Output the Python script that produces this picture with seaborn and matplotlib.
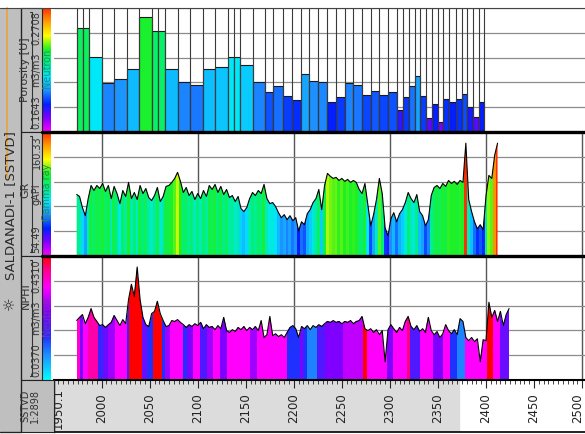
import matplotlib
matplotlib.use("Agg")
import matplotlib.pyplot as plt
import numpy as np
import seaborn as sns
from matplotlib.colors import LinearSegmentedColormap, Normalize
from matplotlib.patches import Rectangle
from matplotlib.ticker import MultipleLocator

well_name = "SALDANADI-1 [SSTVD]"
depth_ref = "SSTVD"
depth_scale = "1:2898"
depth_min, depth_max = 1950.1, 2503.0
depth_labels = [2000, 2050, 2100, 2150, 2200, 2250, 2300, 2350, 2400, 2450, 2500]
depth_grid = [2000, 2100, 2200, 2300, 2400, 2500]
shade_end = 2371.6

# porosity blocks (edges in m, value per block)
por_edges = [1974.0, 1980.2, 1986.8, 2000.0, 2013.1, 2026.0, 2039.1, 2052.7, 2058.9, 2065.9,
             2079.1, 2091.9, 2105.1, 2117.9, 2131.1, 2138.0, 2143.9, 2157.1, 2169.9, 2178.6,
             2188.7, 2197.7, 2207.1, 2215.7, 2224.8, 2234.1, 2243.5, 2253.2, 2261.8, 2271.2,
             2279.9, 2288.9, 2297.6, 2307.0, 2313.2, 2319.8, 2326.0, 2331.2, 2337.1, 2344.0,
             2349.6, 2355.5, 2361.7, 2368.4, 2374.6, 2379.8, 2386.1, 2392.6, 2398.1]
por_values = [0.2532, 0.2532, 0.2290, 0.2065, 0.2102, 0.2180, 0.2627, 0.2511, 0.2511, 0.2180,
              0.2070, 0.2050, 0.2188, 0.2200, 0.2290, 0.2290, 0.2215, 0.2070, 0.1984, 0.2035,
              0.1949, 0.1920, 0.2137, 0.2085, 0.2073, 0.1897, 0.1940, 0.2065, 0.2050, 0.1963,
              0.1998, 0.1963, 0.1984, 0.1834, 0.1940, 0.2041, 0.2128, 0.1949, 0.1767, 0.1886,
              0.1732, 0.1929, 0.1897, 0.1929, 0.1972, 0.1862, 0.1775, 0.1897]
por_range = (0.1643, 0.2708)

# curves sampled every 3 m from 1974 m
sample_top, sample_step = 1974.0, 3.0
gr_values = [107.0, 105.3, 95.8, 88.9, 103.5, 114.7, 110.4, 114.7, 112.1, 116.4,
             109.6, 114.7, 103.5, 113.9, 107.8, 99.2, 110.4, 105.3, 117.3, 103.5,
             108.7, 102.7, 114.7, 107.8, 112.1, 104.4, 101.8, 106.1, 113.0, 101.0,
             105.3, 113.9, 114.7, 117.3, 120.7, 125.9, 118.2, 108.7, 113.0, 106.1,
             109.6, 102.7, 107.8, 103.5, 110.4, 105.3, 114.7, 111.3, 115.6, 108.7,
             113.9, 107.0, 111.3, 104.4, 106.1, 101.0, 105.3, 95.0, 92.4, 95.8,
             103.5, 108.7, 106.1, 110.4, 107.8, 115.6, 103.5, 99.2, 100.1, 96.7,
             91.5, 87.2, 89.8, 85.5, 88.9, 84.6, 87.2, 76.0, 83.7, 81.2,
             90.6, 94.1, 100.1, 103.5, 111.3, 94.1, 114.7, 125.0, 122.5, 120.7,
             121.6, 119.0, 120.7, 118.2, 119.9, 117.3, 119.0, 117.3, 111.3, 107.8,
             116.4, 98.4, 80.3, 89.8, 102.7, 120.7, 107.8, 78.6, 71.7, 86.3,
             91.5, 83.7, 90.6, 94.1, 100.1, 108.7, 103.5, 100.1, 107.0, 92.4,
             88.9, 80.3, 85.5, 106.1, 113.0, 114.7, 112.1, 116.4, 113.9, 119.0,
             116.4, 118.2, 115.6, 119.0, 117.3, 150.8, 102.7, 92.4, 83.7, 77.7,
             81.2, 76.9, 106.1, 123.3, 120.7, 140.5, 150.8]
gr_range = (54.49, 160.33)

nphi_values = [0.226, 0.236, 0.245, 0.216, 0.236, 0.264, 0.236, 0.223, 0.210, 0.213,
               0.204, 0.213, 0.220, 0.242, 0.226, 0.210, 0.229, 0.216, 0.293, 0.341,
               0.303, 0.396, 0.293, 0.236, 0.213, 0.207, 0.248, 0.255, 0.287, 0.248,
               0.226, 0.207, 0.210, 0.226, 0.223, 0.229, 0.220, 0.213, 0.204, 0.213,
               0.207, 0.216, 0.210, 0.220, 0.200, 0.213, 0.204, 0.207, 0.197, 0.210,
               0.200, 0.236, 0.194, 0.188, 0.197, 0.191, 0.204, 0.197, 0.207, 0.194,
               0.204, 0.197, 0.207, 0.194, 0.226, 0.172, 0.181, 0.239, 0.178, 0.184,
               0.175, 0.181, 0.172, 0.188, 0.204, 0.210, 0.200, 0.172, 0.207, 0.200,
               0.210, 0.197, 0.210, 0.204, 0.213, 0.207, 0.216, 0.223, 0.220, 0.226,
               0.220, 0.223, 0.216, 0.223, 0.220, 0.226, 0.216, 0.223, 0.226, 0.239,
               0.200, 0.194, 0.200, 0.188, 0.197, 0.181, 0.194, 0.095, 0.197, 0.213,
               0.200, 0.188, 0.204, 0.194, 0.223, 0.239, 0.207, 0.197, 0.210, 0.191,
               0.200, 0.188, 0.236, 0.194, 0.181, 0.191, 0.172, 0.184, 0.213, 0.194,
               0.184, 0.197, 0.181, 0.232, 0.223, 0.172, 0.162, 0.172, 0.159, 0.168,
               0.095, 0.165, 0.162, 0.284, 0.236, 0.258, 0.223, 0.255, 0.210, 0.245,
               0.264]
nphi_range = (0.0370, 0.4310)

# fill colour of the NPHI track, per depth interval (0 = cyan ... 1 = red)
nphi_color_start = [1973.5, 1977.4, 1980.9, 1986.1, 1996.5, 2001.7, 2006.9, 2013.8, 2026.0, 2028.4,
                    2041.6, 2046.8, 2053.7, 2062.4, 2065.9, 2071.1, 2084.9, 2088.4, 2095.3, 2102.3,
                    2109.3, 2116.1, 2123.1, 2130.1, 2154.3, 2161.3, 2192.5, 2206.4, 2209.8, 2213.3,
                    2223.7, 2232.4, 2251.4, 2272.2, 2275.8, 2296.6, 2303.4, 2317.4, 2320.8, 2331.2,
                    2345.1, 2355.5, 2362.4, 2369.4, 2378.0, 2400.6, 2407.5, 2414.5]
nphi_color_code = [0.8, 0.55, 0.75, 0.85, 0.4, 0.5, 0.6, 0.75, 0.4, 1.0,
                   0.5, 0.35, 1.0, 0.35, 0.6, 0.75, 0.35, 0.55, 0.75, 0.45,
                   0.6, 0.75, 0.55, 0.75, 0.6, 0.75, 0.35, 0.55, 0.35, 0.22,
                   0.45, 0.55, 0.65, 1.0, 0.75, 0.55, 0.75, 0.9, 0.45, 0.75,
                   0.55, 0.75, 0.35, 0.22, 0.75, 1.0, 0.75, 0.5]

# ---- layout (pixels) ----
W, H = 585, 434
X0, X1 = 53.7, 585.0
TRACK_Y = [(8, 132), (132, 256), (256, 380)]


def box(x0, y0, x1, y1):
    return [x0 / W, 1 - y1 / H, (x1 - x0) / W, (y1 - y0) / H]


def setup_track(ax, lo, hi, vgrid=True):
    ax.set_xlim(depth_min, depth_max)
    ax.set_ylim(lo, hi)
    ax.set_yticks(np.linspace(lo, hi, 6))
    ax.set_xticks(depth_grid)
    ax.tick_params(length=0, labelbottom=False, labelleft=False)
    ax.grid(axis="y", color="#8c8c8c", lw=0.9)
    if vgrid:
        ax.grid(axis="x", color="#555555", lw=1.0)
    ax.set_axisbelow(True)
    for s in ax.spines.values():
        s.set_visible(False)


sns.set_style("white")
plt.rcParams["font.family"] = ["DejaVu Sans"]

rain = LinearSegmentedColormap.from_list(
    "rain", ["#ff00ff", "#8000ff", "#0020ff", "#1e90ff", "#00e8ff",
             "#00f080", "#20f020", "#ffff00", "#ffa000", "#ff3000"])
nphi_cmap = LinearSegmentedColormap.from_list(
    "nphi", [(0, "#00ffff"), (0.2, "#1e90ff"), (0.35, "#2030ff"), (0.55, "#8000ff"),
             (0.75, "#ff00ff"), (0.9, "#ff0080"), (1, "#ff0000")])

fig = plt.figure(figsize=(W / 100, H / 100), dpi=100)
ax_por = fig.add_axes(box(X0, TRACK_Y[0][0], X1, TRACK_Y[0][1]))
ax_gr = fig.add_axes(box(X0, TRACK_Y[1][0], X1, TRACK_Y[1][1]))
ax_nphi = fig.add_axes(box(X0, TRACK_Y[2][0], X1, TRACK_Y[2][1]))
ax_dep = fig.add_axes(box(X0, 380, X1, 432))

# porosity blocks
edges = np.array(por_edges)
vals = np.array(por_values)
por_norm = Normalize(0.152, 0.322)
ax_por.bar(edges[:-1], vals - por_range[0], width=np.diff(edges), bottom=por_range[0],
           align="edge", color=rain(por_norm(vals)), edgecolor="#1a1a1a", linewidth=0.8, zorder=2)
ax_por.vlines(edges, por_range[0], por_range[1], colors="#3a3a3a", linewidth=0.8, zorder=3)
setup_track(ax_por, *por_range, vgrid=False)

# gamma ray: fill coloured by value
gr = np.array(gr_values)
gr_depth = sample_top + sample_step * np.arange(len(gr))
poly = ax_gr.fill_between(gr_depth, gr_range[0], gr, facecolor="none", edgecolor="none")
im = ax_gr.imshow(gr[None, :], cmap=rain, norm=Normalize(55, 150), aspect="auto",
                  interpolation="nearest", origin="lower", zorder=2,
                  extent=(gr_depth[0] - 1.5, gr_depth[-1] + 1.5, gr_range[0], gr_range[1]))
im.set_clip_path(poly.get_paths()[0], ax_gr.transData)
sns.lineplot(x=gr_depth, y=gr, ax=ax_gr, color="black", linewidth=0.8,
             estimator=None, sort=False, zorder=4)
setup_track(ax_gr, *gr_range)

# NPHI: fill coloured by interval
nphi = np.array(nphi_values)
nphi_depth = sample_top + sample_step * np.arange(len(nphi))
poly = ax_nphi.fill_between(nphi_depth, nphi_range[0], nphi, facecolor="none", edgecolor="none")
seg_edges = list(nphi_color_start) + [nphi_depth[-1] + 1.5]
mesh = ax_nphi.pcolormesh(seg_edges, list(nphi_range), np.array(nphi_color_code)[None, :],
                          cmap=nphi_cmap, vmin=0, vmax=1, shading="flat", zorder=2)
mesh.set_clip_path(poly.get_paths()[0], ax_nphi.transData)
sns.lineplot(x=nphi_depth, y=nphi, ax=ax_nphi, color="black", linewidth=0.8,
             estimator=None, sort=False, zorder=4)
setup_track(ax_nphi, *nphi_range)

# depth scale
ax_dep.set_xlim(depth_min, depth_max)
ax_dep.set_ylim(0, 1)
ax_dep.axvspan(depth_min, shade_end, color="#dcdcdc", zorder=0)
ax_dep.xaxis.tick_top()
ax_dep.set_xticks(depth_labels)
ax_dep.xaxis.set_minor_locator(MultipleLocator(5))
ax_dep.tick_params(axis="x", which="major", direction="in", length=6, width=0.8,
                   top=True, bottom=False, labeltop=False, labelbottom=False)
ax_dep.tick_params(axis="x", which="minor", direction="in", length=3, width=0.6, top=True)
ax_dep.set_yticks([])
for side, lw in [("top", 1.5), ("bottom", 1.2), ("left", 1.0)]:
    ax_dep.spines[side].set_linewidth(lw)
    ax_dep.spines[side].set_color("black")
ax_dep.spines["right"].set_visible(False)
for d in depth_labels:
    xpos = d - 4.5 if d == depth_labels[-1] else d
    ax_dep.text(xpos, 0.46, str(d), rotation=90, ha="center", va="center", fontsize=8.5, color="#222222")
ax_dep.text(depth_min + 4.5, 0.46, f"{depth_min:.1f}", rotation=90, ha="center", va="center",
            fontsize=8.5, color="#222222")

# ---- header column and separators ----
ax_h = fig.add_axes([0, 0, 1, 1])
ax_h.patch.set_alpha(0)
ax_h.set_zorder(10)
gray = "#bfbfbf"
ax_h.add_patch(Rectangle((0, 8), 20.5, 424, facecolor=gray, edgecolor="none"))
ax_h.plot([6.7, 6.7], [8, 178], color="#e8a33c", lw=1.2)
ax_h.plot([20.5, 20.5], [8, 432], color="#222222", lw=0.9)
ax_h.text(10.5, 206, well_name, rotation=90, ha="center", va="center", fontsize=9.5, color="#2b2b2b")
ax_h.text(10.5, 303, "\u263c", rotation=90, ha="center", va="center", fontsize=11, color="#2b2b2b")

headers = [
    ("Porosity [U]", 70, "0.1643", "m3/m3", "0.2708", "Neutron", "#1a8f86", rain),
    ("GR", 190, "54.49", "gAPI", "160.33", "Gamma ray", "#2a8a5a", rain),
    ("NPHI", 296, "0.0370", "m3/m3", "0.4310", "Neutron", "#7a2fb0", nphi_cmap),
]
grad = np.linspace(0, 1, 256)[:, None]
for (y0, y1), (name, name_y, lo_t, unit, hi_t, fam, fam_c, cm) in zip(TRACK_Y, headers):
    ax_h.add_patch(Rectangle((20.5, y0), 21.5, y1 - y0, facecolor=gray, edgecolor="#222222", lw=0.8))
    ax_h.imshow(grad, cmap=cm, aspect="auto", origin="lower", extent=(42.3, 50.8, y1, y0))
    ax_h.text(25.5, name_y, name, rotation=90, ha="center", va="center", fontsize=8, color="#333333")
    ax_h.text(36.6, y1 - 3, lo_t, rotation=90, ha="center", va="bottom", fontsize=7, color="#333333")
    ax_h.text(36.6, (y0 + y1) / 2, unit, rotation=90, ha="center", va="center", fontsize=7, color="#333333")
    ax_h.text(36.6, y0 + 3, hi_t, rotation=90, ha="center", va="top", fontsize=7, color="#333333")
    ax_h.plot([31.6, 31.6], [y0 + 4, y1 - 4], color="#333333", lw=0.8)
    ax_h.plot([29.8, 31.6], [y0 + 4, y0 + 4], color="#333333", lw=0.8)
    ax_h.plot([29.8, 31.6], [y1 - 4, y1 - 4], color="#333333", lw=0.8)
    ax_h.text(46.6, (y0 + y1) / 2 - 2, fam, rotation=90, ha="center", va="center", fontsize=7, color=fam_c)

ax_h.add_patch(Rectangle((20.5, 380), X0 - 20.5, 52, facecolor=gray, edgecolor="#222222", lw=0.8))
ax_h.text(25, 406, depth_ref, rotation=90, ha="center", va="center", fontsize=7, color="#333333")
ax_h.text(35, 406, depth_scale, rotation=90, ha="center", va="center", fontsize=7, color="#333333")

ax_h.plot([0, W], [8, 8], color="#444444", lw=0.8)
ax_h.plot([42, W], [132, 132], color="black", lw=2.4)
ax_h.plot([42, W], [256, 256], color="black", lw=2.4)
ax_h.plot([0, 20.5], [432, 432], color="#222222", lw=1.0)
ax_h.set_xlim(0, W)
ax_h.set_ylim(H, 0)
ax_h.axis("off")

fig.savefig("out.png", dpi=100, facecolor="white")
